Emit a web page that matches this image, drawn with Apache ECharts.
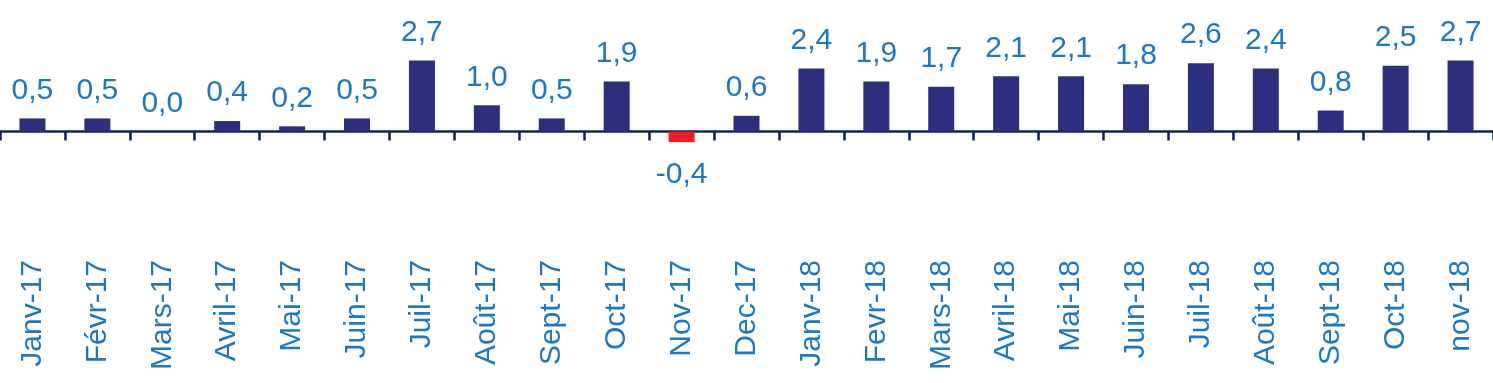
<!DOCTYPE html>
<html>
<head>
<meta charset="utf-8">
<script src="https://cdn.jsdelivr.net/npm/echarts@6/dist/echarts.min.js"></script>
<style>
html,body{margin:0;padding:0;background:#fff;}
#c{width:1493px;height:383px;}
</style>
</head>
<body>
<div id="c"></div>
<script>
const categories = ['Janv-17','Févr-17','Mars-17','Avril-17','Mai-17','Juin-17','Juil-17','Août-17','Sept-17','Oct-17','Nov-17','Dec-17','Janv-18','Fevr-18','Mars-18','Avril-18','Mai-18','Juin-18','Juil-18','Août-18','Sept-18','Oct-18','nov-18'];
const values = [0.5,0.5,0.0,0.4,0.2,0.5,2.7,1.0,0.5,1.9,-0.4,0.6,2.4,1.9,1.7,2.1,2.1,1.8,2.6,2.4,0.8,2.5,2.7];

const navy = '#2b2f7e';
const red = '#ed1c24';
const blue = '#1b78c2';
const axisColor = '#0c2262';

const chart = echarts.init(document.getElementById('c'));
chart.setOption({
  animation: false,
  grid: {left: 0, right: 0, top: 0, bottom: 133, containLabel: false},
  xAxis: [
    {
      type: 'category', data: categories,
      axisLine: {onZero: true, lineStyle: {color: axisColor, width: 2.5}},
      axisTick: {show: true, length: 9, lineStyle: {color: axisColor, width: 2.5}},
      axisLabel: {show: false}
    },
    {
      type: 'category', data: categories, position: 'bottom',
      axisLine: {show: false, onZero: false},
      axisTick: {show: false},
      axisLabel: {
        show: true, rotate: 90, align: 'right', verticalAlign: 'middle',
        margin: 10, color: blue, fontSize: 30, fontFamily: 'Liberation Sans, Arial, sans-serif',
        interval: 0
      }
    }
  ],
  yAxis: {
    type: 'value', min: -4.5, max: 5.0,
    show: false, splitLine: {show: false}
  },
  series: [{
    type: 'bar',
    xAxisIndex: 0,
    barWidth: 26,
    data: values.map(v => ({
      value: v,
      itemStyle: {color: v < 0 ? red : navy},
      label: {position: v < 0 ? 'bottom' : 'top', distance: v < 0 ? 18 : 13}
    })),
    label: {
      show: true, distance: 13, color: blue, fontSize: 30,
      fontFamily: 'Liberation Sans, Arial, sans-serif',
      formatter: p => p.value.toFixed(1).replace('.', ',')
    }
  }]
});
</script>
</body>
</html>
